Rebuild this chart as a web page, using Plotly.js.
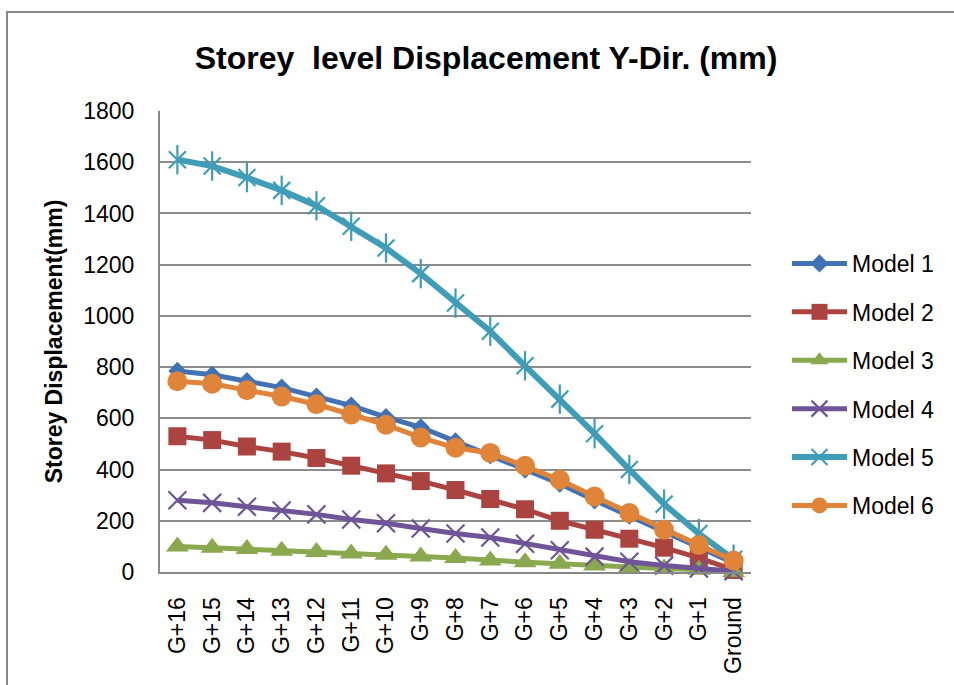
<!DOCTYPE html>
<html>
<head>
<meta charset="utf-8">
<script src="https://cdn.plot.ly/plotly-3.0.1.min.js"></script>
<style>
  html, body { margin: 0; padding: 0; background: #ffffff; }
  #chart { width: 954px; height: 685px; }
</style>
</head>
<body>
<div id="chart"></div>
<script>
// Storey levels, top floor first
const storeys = ["G+16", "G+15", "G+14", "G+13", "G+12", "G+11", "G+10", "G+9", "G+8",
                 "G+7", "G+6", "G+5", "G+4", "G+3", "G+2", "G+1", "Ground"];

// Storey displacement in Y direction (mm) for each model
const model1 = [785, 770, 745, 720, 685, 650, 605, 565, 510, 455, 400, 345, 280, 220, 160, 95, 35];
const model2 = [530, 515, 490, 470, 445, 415, 385, 355, 320, 285, 245, 200, 165, 130, 95, 55, 8];
const model3 = [100, 95, 90, 83, 78, 72, 67, 61, 55, 45, 38, 32, 25, 19, 14, 9, 0];
const model4 = [280, 270, 255, 240, 225, 205, 190, 170, 150, 135, 110, 85, 60, 40, 25, 14, 3];
const model5 = [1610, 1585, 1540, 1490, 1430, 1350, 1265, 1165, 1050, 940, 805, 675, 540, 400, 265, 150, 50];
const model6 = [745, 735, 710, 685, 655, 615, 575, 525, 485, 465, 415, 360, 295, 230, 165, 105, 45];

const seriesNames = ["Model 1", "Model 2", "Model 3", "Model 4", "Model 5", "Model 6"];
const yTicks = [0, 200, 400, 600, 800, 1000, 1200, 1400, 1600, 1800];

const textFont = "'Liberation Sans', Arial, sans-serif";

function series(name, values, color, symbol, size, lineW, strokeW) {
  return {
    type: "scatter",
    mode: "lines+markers",
    name: name,
    legendgroup: name,
    x: storeys,
    y: values,
    line: { color: color, width: lineW },
    marker: { symbol: symbol, size: size, color: color, line: { color: color, width: strokeW || 0 } },
    cliponaxis: false
  };
}

const teal = "#3f9db8";

const traces = [
  series(seriesNames[0], model1, "#4372b4", "diamond", 14, 5),
  series(seriesNames[1], model2, "#ab4441", "square", 18, 5),
  series(seriesNames[2], model3, "#8aa84d", "triangle-up", 20, 5),
  series(seriesNames[3], model4, "#6f5598", "x-thin-open", 18, 5, 2.2),
  series(seriesNames[4], model5, teal, "x-thin-open", 17, 6, 2.2),
  // vertical stroke completing the star marker of Model 5
  {
    type: "scatter", mode: "markers", x: storeys, y: model5,
    legendgroup: seriesNames[4], showlegend: false, hoverinfo: "skip",
    marker: { symbol: "line-ns-open", size: 21, color: teal, line: { color: teal, width: 2.2 } },
    cliponaxis: false
  },
  series(seriesNames[5], model6, "#e0843a", "circle", 20, 5)
];

// plot area edges in pixels, used to place the outer frame
const pl = 160, pr = 751, pt = 111, pb = 572;
const pw = pr - pl, ph = pb - pt;

const layout = {
  width: 954,
  height: 685,
  paper_bgcolor: "#ffffff",
  plot_bgcolor: "#ffffff",
  margin: { l: pl, r: 954 - pr, t: pt, b: 685 - pb, pad: 0 },
  showlegend: true,
  title: {
    text: "<b>Storey  level Displacement Y-Dir. (mm)</b>",
    font: { family: textFont, size: 32, color: "#000000" },
    x: 486 / 954, xanchor: "center", xref: "container",
    y: 1 - 58 / 685, yanchor: "middle", yref: "container"
  },
  xaxis: {
    type: "category",
    categoryorder: "array",
    categoryarray: storeys,
    range: [-0.5, storeys.length - 0.5],
    tickangle: -90,
    tickfont: { family: textFont, size: 23, color: "#000000" },
    ticks: "",
    ticklabelstandoff: 14,
    showgrid: false,
    showline: true,
    linecolor: "#888888",
    linewidth: 2,
    zeroline: false,
    fixedrange: true
  },
  yaxis: {
    range: [0, 1800],
    tickvals: yTicks,
    ticktext: yTicks.map(String),
    tickfont: { family: textFont, size: 23, color: "#000000" },
    ticks: "",
    ticklabelstandoff: 19,
    showgrid: true,
    gridcolor: "#8c8c8c",
    gridwidth: 2,
    showline: true,
    linecolor: "#888888",
    linewidth: 2,
    zeroline: false,
    title: {
      text: "<b>Storey Displacement(mm)</b>",
      font: { family: textFont, size: 23, color: "#000000" },
      standoff: 14
    },
    fixedrange: true
  },
  legend: {
    x: (787 - pl) / pw,
    xanchor: "left",
    y: (pb - 242) / ph,
    yanchor: "top",
    traceorder: "grouped",
    tracegroupgap: 15.5,
    itemwidth: 55,
    font: { family: textFont, size: 23, color: "#000000" },
    bgcolor: "rgba(0,0,0,0)",
    borderwidth: 0
  },
  shapes: [
    {
      type: "rect", xref: "paper", yref: "paper", layer: "below",
      x0: (7 - pl) / pw, x1: (990 - pl) / pw,
      y0: (pb - 720) / ph, y1: (pb - 12) / ph,
      line: { color: "#888888", width: 2 },
      fillcolor: "rgba(0,0,0,0)"
    }
  ]
};

Plotly.newPlot("chart", traces, layout, { displayModeBar: false, responsive: false });
</script>
</body>
</html>
